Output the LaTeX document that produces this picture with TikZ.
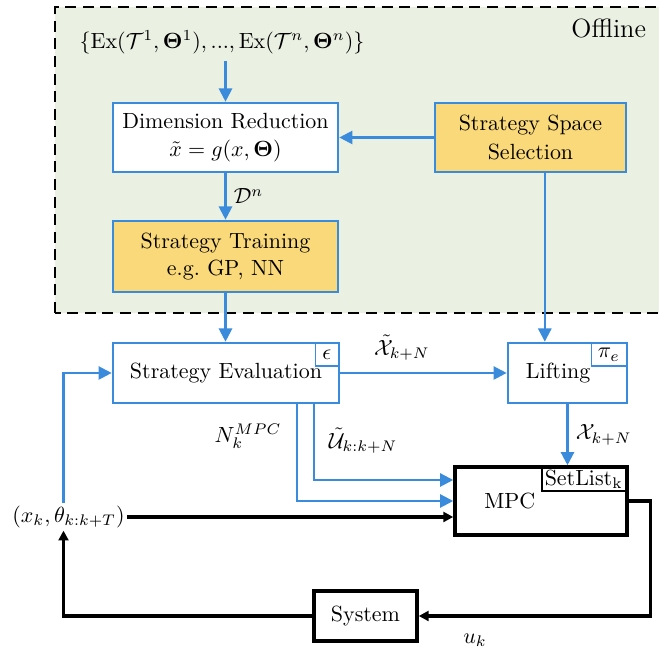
\documentclass[tikz,border=0pt]{standalone}
\definecolor{FlowBlue}{HTML}{3A8BDB}
\definecolor{StratYellow}{HTML}{FAD97A}
\definecolor{OfflineGreen}{HTML}{EAF0E2}
\usepackage{amsmath, amssymb, bm}
\usepackage{tikz}
\usetikzlibrary{positioning, arrows.meta, calc}

\begin{document}
\begin{tikzpicture}[
  blk/.style={draw=FlowBlue, line width=1.2pt, fill=white, minimum height=0.96cm, align=center},
  strat/.style={blk, fill=StratYellow},
  ctrl/.style={draw, line width=1.6pt, fill=white, align=center},
  tag/.style={draw, line width=0.6pt, fill=white, inner sep=1pt, minimum height=0.36cm, anchor=north east},
  flow/.style={draw=FlowBlue, line width=1.0pt, -{Triangle[length=6pt, width=6pt]}},
  feed/.style={line width=1.5pt, -{Triangle[length=4.5pt, width=4.5pt]}},
]
  \useasboundingbox (0,0) rectangle (10.544,10.432);

  % Offline part
  \draw[line width=0.9pt, dash pattern=on 5pt off 3pt, fill=OfflineGreen] (0.88,5.424) rectangle (10.65,10.32);
  \node[anchor=east, font=\large] (offline) at (10.46, 9.98) {Offline};

  \node (exps) at (3.552, 9.76) {$\{\mathrm{Ex}(\mathcal{T}^1,\boldsymbol{\Theta}^1),...,\mathrm{Ex}(\mathcal{T}^n,\boldsymbol{\Theta}^n)\}$};
  \node[blk, minimum width=3.6cm, minimum height=1.104cm] (dimred) at (3.608, 8.232) {Dimension Reduction\\[1pt] $\tilde{x} = g(x, \boldsymbol{\Theta})$};
  \node[strat, minimum width=3.056cm, minimum height=1.104cm] (sss) at (8.488, 8.232) {Strategy Space\\[1pt]Selection};
  \node[strat, minimum width=3.6cm, minimum height=1.136cm] (train) at (3.608, 6.328) {Strategy Training\\e.g.\ GP, NN};

  \draw[flow] (exps.south -| dimred.north) -- (dimred.north);
  \draw[flow] (sss.west) -- (dimred.east);
  \draw[flow] (dimred) -- node[right] {$\mathcal{D}^n$} (train);

  % Online part
  \node[blk, minimum width=3.616cm] (seval) at (3.616, 4.464) {Strategy Evaluation};
  \node[tag, draw=FlowBlue, minimum width=0.37cm] (eps) at ([shift={(-0.02,-0.02)}]seval.north east) {$\epsilon$};
  \node[blk, minimum width=1.904cm] (lift) at (9.08, 4.464) {Lifting\hspace*{0.3cm}};
  \node[tag, draw=FlowBlue, minimum width=0.56cm] (pie) at ([shift={(-0.02,-0.02)}]lift.north east) {$\pi_e$};

  \node[ctrl, minimum width=2.752cm, minimum height=1.088cm] (mpc) at (8.656, 2.416) {MPC\hspace*{1.0cm}};
  \node[tag, minimum width=1.34cm] (setlist) at ([shift={(-0.04,-0.04)}]mpc.north east) {$\mathrm{SetList}_\mathrm{k}$};
  \node[ctrl, minimum width=1.648cm, minimum height=0.8cm] (sys) at (5.848, 0.576) {System};
  \node[inner sep=1pt] (state) at (1.096, 2.16) {$(x_k, \theta_{k:k+T})$};

  \draw[flow] (train.south) -- (train.south |- seval.north);
  \coordinate (tap) at ([xshift=0.61cm]lift.north west);
  \draw[flow] (sss.south -| tap) -- (tap);
  \draw[flow] (seval.east) -- node[pos=0.37, above=2pt] {$\tilde{\mathcal{X}}_{k+N}$} (seval.east -| lift.west);
  \draw[flow] (lift.south) -- node[right] {$\mathcal{X}_{k+N}$} (lift.south |- mpc.north);

  \coordinate (nOut) at ([xshift=-0.688cm]seval.south east);
  \coordinate (uOut) at ([xshift=-0.416cm]seval.south east);
  \draw[flow] (nOut) |- node[pos=0.165, left=0.12cm] {$N_k^{MPC}$} (mpc.west);
  \draw[flow] (uOut) |- node[pos=0.24, right=0.1cm] {$\tilde{\mathcal{U}}_{k:k+N}$} ([yshift=0.336cm]mpc.west);

  % Closed loop
  \draw[flow] ([xshift=-0.08cm]state.north) |- (seval.west);
  \draw[feed] (state.east) -- (state.east -| mpc.west);
  \draw[feed] (mpc.east) -- ++(0.35,0) |- (sys.east);
  \node (uk) at (7.6, 0.192) {$u_k$};
  \draw[feed] (sys.west) -| ([xshift=-0.08cm]state.south);
\end{tikzpicture}
\end{document}
